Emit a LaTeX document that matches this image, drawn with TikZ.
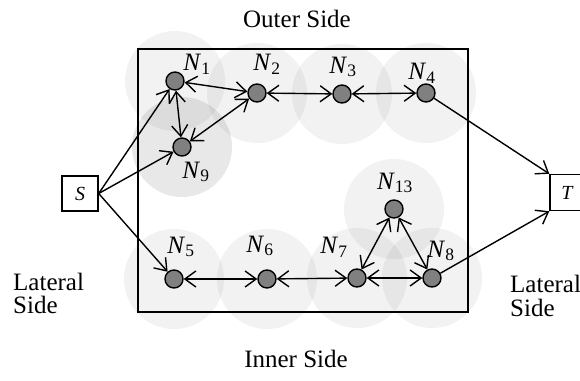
\documentclass[tikz,border=0pt]{standalone}
\usepackage{fontspec}
\setmainfont{Liberation Serif}
\usetikzlibrary{arrows.meta}
\newcommand\Nlab[1]{\textit{N}\textsubscript{#1}}
\begin{document}
\begin{tikzpicture}[x=1pt,y=-1pt,
 sensor/.style={circle,draw=black,fill=gray,line width=1.4pt,minimum size=18pt,inner sep=0pt},
 sensrange/.style={fill=black,fill opacity=0.05},
 sensrangedark/.style={fill=black,fill opacity=0.09},
 sidelab/.style={font=\fontsize{25}{28}\selectfont,inner sep=0pt},
 nlab/.style={font=\fontsize{25}{27}\selectfont,inner sep=0pt},
 termbox/.style={draw,line width=1.4pt,minimum width=34pt,minimum height=36pt,font=\fontsize{20}{22}\selectfont\itshape,inner sep=0pt},
 barbtip/.tip={Straight Barb[length=11pt,width=16pt,line width=1.4pt]},
 twoway/.style={line width=1.4pt,barbtip-barbtip},
 oneway/.style={line width=1.4pt,-barbtip}
]
\useasboundingbox (0,0) rectangle (580,380);
% frame
\draw[line width=1.6pt] (138,49) rectangle (468,312);
% sensing ranges
\fill[sensrange] (175,81) circle[radius=50pt];
\fill[sensrange] (257,93) circle[radius=50pt];
\fill[sensrange] (342,94) circle[radius=50pt];
\fill[sensrange] (426,93) circle[radius=50pt];
\fill[sensrangedark] (182,147) circle[radius=50pt];
\fill[sensrange] (394,209) circle[radius=50pt];
\fill[sensrange] (174,279) circle[radius=50pt];
\fill[sensrange] (267,279) circle[radius=50pt];
\fill[sensrange] (357,278) circle[radius=50pt];
\fill[sensrange] (432,278) circle[radius=50pt];
% sensors
\node[sensor] (n1) at (175,81) {};
\node[sensor] (n2) at (257,93) {};
\node[sensor] (n3) at (342,94) {};
\node[sensor] (n4) at (426,93) {};
\node[sensor] (n9) at (182,147) {};
\node[sensor] (n13) at (394,209) {};
\node[sensor] (n5) at (174,279) {};
\node[sensor] (n6) at (267,279) {};
\node[sensor] (n7) at (357,278) {};
\node[sensor] (n8) at (432,278) {};
% labels
\node[nlab] (l1) at (197,64) {\Nlab{1}};
\node[nlab] (l2) at (267,64) {\Nlab{2}};
\node[nlab] (l3) at (343,67) {\Nlab{3}};
\node[nlab] (l4) at (422,73) {\Nlab{4}};
\node[nlab] (l9) at (196,172) {\Nlab{9}};
\node[nlab] (l13) at (395,183) {\Nlab{13}};
\node[nlab] (l5) at (181,247) {\Nlab{5}};
\node[nlab] (l6) at (260,246) {\Nlab{6}};
\node[nlab] (l7) at (334,247) {\Nlab{7}};
\node[nlab] (l8) at (441,251) {\Nlab{8}};
% terminals
\node[termbox,minimum width=36pt,minimum height=35pt] (S) at (80,193.5) {S};
\node[termbox] (T) at (567,192.5) {T};
% side texts
\node[sidelab,anchor=base] (outer) at (297,27) {Outer Side};
\node[sidelab,anchor=base] (inner) at (296,367) {Inner Side};
\node[sidelab,anchor=base west] (ll1) at (13,290) {Lateral};
\node[sidelab,anchor=base west] (ll2) at (13,313) {Side};
\node[sidelab,anchor=base west] (lr1) at (510,292) {Lateral};
\node[sidelab,anchor=base west] (lr2) at (510,316) {Side};
% links
\draw[oneway] (S.east) -- (n1);
\draw[oneway] (S.east) -- (n9);
\draw[oneway] (S.east) -- (n5);
\draw[twoway] (n1) -- (n2);
\draw[twoway] (n1) -- (n9);
\draw[twoway] (n9) -- (n2);
\draw[twoway] (n2) -- (n3);
\draw[twoway] (n3) -- (n4);
\draw[oneway] (n4) -- (T.north west);
\draw[twoway] (n5) -- (n6);
\draw[twoway] (n6) -- (n7);
\draw[twoway] (n7) -- (n8);
\draw[twoway] (n7) -- (n13);
\draw[twoway] (n13) -- (n8);
\draw[oneway] (n8) -- (T.south west);
\end{tikzpicture}
\end{document}
